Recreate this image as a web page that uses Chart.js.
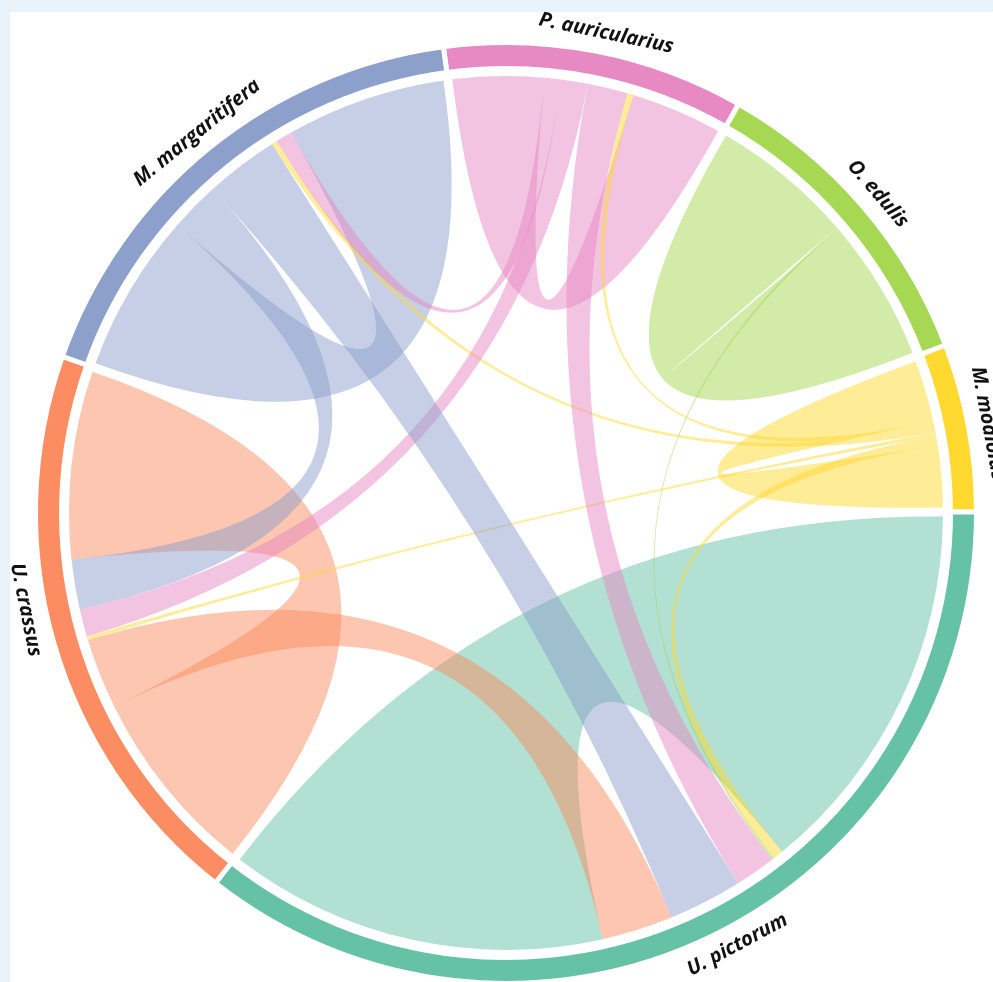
<!DOCTYPE html>
<html>
<head>
<meta charset="utf-8">
<script src="https://cdn.jsdelivr.net/npm/chart.js@4.4.1/dist/chart.umd.min.js"></script>
<style>
    html, body { margin: 0; padding: 0; }
    body { width: 993px; height: 982px; overflow: hidden; background: #e9f3fa; position: relative; }
    .panel { position: absolute; left: 10px; top: 12px; right: 0; bottom: 0; background: #fff; }
    #chord { position: absolute; left: 0; top: 0; }
</style>
</head>
<body>
<div class="panel"></div>
<canvas id="chord" width="993" height="1000"></canvas>
<script>
// Sectors, clockwise from the top
const species = ['P. auricularius', 'O. edulis', 'M. modiolus', 'U. pictorum', 'U. crassus', 'M. margaritifera'];
const speciesColors = ['#E78AC3', '#A6D854', '#FFD92F', '#66C2A5', '#FC8D62', '#8DA0CB'];

// Links (index into species); a link with from === to is a self link
const linkFrom  = [0,   1,   2,  3,   4,   5,   2, 2, 2, 2,  0,  0,  0,  1, 5,  5,  4];
const linkTo    = [0,   1,   2,  3,   4,   5,   0, 5, 4, 3,  5,  4,  3,  3, 4,  3,  3];
const linkValue = [122, 191, 85, 496, 248, 211, 8, 7, 5, 13, 22, 36, 54, 3, 66, 97, 93];

// Each sector is as wide as all the link ends it carries
const sectorTotals = species.map((_, i) => linkFrom.reduce((sum, f, k) =>
    sum + (f === i ? linkValue[k] : 0) + (linkTo[k] === i ? linkValue[k] : 0), 0));

// small angular shifts (degrees) for labels that sit off the sector middle
const labelNudge = {'P. auricularius': 0.8, 'U. pictorum': -2.2, 'U. crassus': 4.8};

function withAlpha(hex, a) {
    const n = parseInt(hex.slice(1), 16);
    return `rgba(${(n >> 16) & 255}, ${(n >> 8) & 255}, ${n & 255}, ${a})`;
}

const chordPlugin = {
    id: 'chordRibbons',
    afterDatasetsDraw(chart) {
        const ctx = chart.ctx;
        const arcs = chart.getDatasetMeta(0).data;
        const cx = arcs[0].x;
        const cy = arcs[0].y;
        const r = arcs[0].innerRadius - 7.5;
        const inset = 4.5 / r;
        const n = species.length;

        // place every link end along its sector: self part, other sectors counter-clockwise, self part
        const fromEnd = [];
        const toEnd = [];
        species.forEach((name, i) => {
            const arc = arcs[i];
            const unit = (arc.endAngle - arc.startAngle - 2 * inset) / sectorTotals[i];
            let a = arc.startAngle + inset;
            const take = v => {
                const s = a;
                a += v * unit;
                return [s, a];
            };
            const self = linkFrom.findIndex((f, k) => f === i && linkTo[k] === i);
            if (self >= 0) fromEnd[self] = take(linkValue[self]);
            for (let k = 1; k < n; k++) {
                const j = (i - k + n) % n;
                linkFrom.forEach((f, idx) => {
                    if (f === i && linkTo[idx] === j) fromEnd[idx] = take(linkValue[idx]);
                    else if (f === j && linkTo[idx] === i) toEnd[idx] = take(linkValue[idx]);
                });
            }
            if (self >= 0) toEnd[self] = take(linkValue[self]);
        });

        ctx.save();
        linkFrom.forEach((f, idx) => {
            const [a1, a2] = fromEnd[idx];
            const [b1, b2] = toEnd[idx];
            ctx.beginPath();
            ctx.arc(cx, cy, r, a1, a2);
            ctx.quadraticCurveTo(cx, cy, cx + r * Math.cos(b1), cy + r * Math.sin(b1));
            ctx.arc(cx, cy, r, b1, b2);
            ctx.quadraticCurveTo(cx, cy, cx + r * Math.cos(a1), cy + r * Math.sin(a1));
            ctx.closePath();
            ctx.fillStyle = withAlpha(speciesColors[f], 0.5);
            ctx.fill();
        });

        // sector names around the outside
        const labelR = arcs[0].outerRadius + 19.5;
        ctx.fillStyle = '#111';
        ctx.font = 'bold italic 20px "Open Sans"';
        ctx.textAlign = 'center';
        ctx.textBaseline = 'middle';
        species.forEach((name, i) => {
            const mid = (arcs[i].startAngle + arcs[i].endAngle) / 2 + (labelNudge[name] || 0) * Math.PI / 180;
            let deg = (mid * 180 / Math.PI + 90) % 360;
            if (deg < 0) deg += 360;
            let rot = mid + Math.PI / 2;
            if (deg > 90 && deg < 270) rot += Math.PI;
            ctx.save();
            ctx.translate(cx + labelR * Math.cos(mid), cy + labelR * Math.sin(mid));
            ctx.rotate(rot);
            ctx.fillText(name, 0, 0);
            ctx.restore();
        });
        ctx.restore();
    }
};

document.addEventListener('DOMContentLoaded', function () {
    new Chart(document.getElementById('chord'), {
        type: 'doughnut',
        data: {
            labels: species,
            datasets: [{
                data: sectorTotals,
                backgroundColor: speciesColors,
                borderColor: '#ffffff',
                borderWidth: 5,
                hoverOffset: 0
            }]
        },
        options: {
            responsive: false,
            animation: false,
            events: [],
            rotation: -7.65,
            cutout: '94.47%',
            layout: {padding: {left: 33, top: 40, right: 14, bottom: 14}},
            plugins: {
                legend: {display: false},
                tooltip: {enabled: false}
            }
        }
        ,
        plugins: [chordPlugin]
    });
});
</script>
</body>
</html>
